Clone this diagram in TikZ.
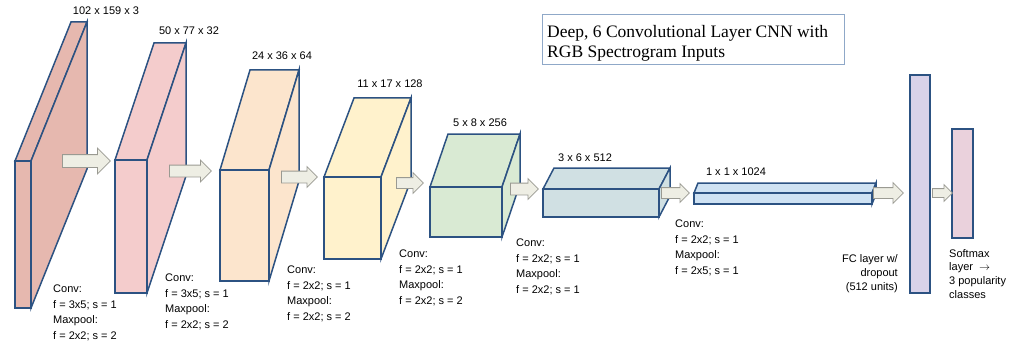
\documentclass[tikz,border=0pt]{standalone}
\usepackage{fontspec}
\setmainfont{Liberation Sans}
\newfontfamily\titlefont{Liberation Serif}
\usetikzlibrary{shapes.arrows}
\definecolor{edgeblue}{HTML}{2C5282}
\definecolor{cA}{HTML}{E6B8AF}
\definecolor{cB}{HTML}{F4CCCC}
\definecolor{cC}{HTML}{FCE5CD}
\definecolor{cD}{HTML}{FFF2CC}
\definecolor{cE}{HTML}{D9EAD3}
\definecolor{cF}{HTML}{D0E0E3}
\definecolor{cG}{HTML}{CFE2F3}
\definecolor{cH}{HTML}{D9D2E9}
\definecolor{cI}{HTML}{EAD1DC}
\definecolor{arrowfill}{HTML}{EEEEE4}
\definecolor{arrowedge}{HTML}{9A9A92}
\definecolor{titleedge}{HTML}{8FA8C8}
\newcommand\mycuboid[7]{%
  \filldraw[boxline,fill=#7] (#1,#2) -- ++(#5,#6) -- ++(#3-#1,0) -- (#3,#2) -- cycle;
  \filldraw[boxline,fill=#7] (#3,#2) -- ++(#5,#6) -- ++(0,#4-#2) -- (#3,#4) -- cycle;
  \filldraw[boxline,fill=#7] (#1,#2) rectangle (#3,#4);
}
\tikzset{
  boxline/.style={draw=edgeblue,line width=1.5pt,line join=miter},
  blockarrow/.style={single arrow,draw=arrowedge,fill=arrowfill,line width=0.8pt,inner xsep=0pt,anchor=west,shape border rotate=0},
  dimlabel/.style={font=\fontsize{11}{13}\selectfont,inner sep=0pt},
  oplabel/.style={font=\fontsize{11}{15.4}\selectfont,align=left,anchor=north west,inner sep=0pt},
}
\begin{document}
\begin{tikzpicture}[x=1pt,y=-1pt]
\useasboundingbox (0,0) rectangle (1018,345);
% cuboids
\mycuboid{15}{161}{31}{308}{56}{-139}{cA}
\mycuboid{115}{160}{147}{293}{39}{-117}{cB}
\mycuboid{220}{170}{269}{281}{30}{-100}{cC}
\mycuboid{324}{177}{381}{259}{30}{-79}{cD}
\mycuboid{430}{187}{502}{237}{18}{-53}{cE}
\mycuboid{543}{189}{659}{217}{11}{-21}{cF}
\mycuboid{694}{193}{872}{204}{4}{-10}{cG}
\filldraw[boxline,fill=cH] (910,75) rectangle (930,293);
\filldraw[boxline,fill=cI] (952,129) rectangle (973,238);
% block arrows
\node[blockarrow,minimum height=48pt,inner ysep=6pt,single arrow head extend=6.5pt] (a1) at (62,161) {};
\node[blockarrow,minimum height=42pt,inner ysep=5.5pt,single arrow head extend=5pt] (a2) at (169,171) {};
\node[blockarrow,minimum height=36pt,inner ysep=5.5pt,single arrow head extend=4.5pt] (a3) at (281,177) {};
\node[blockarrow,minimum height=27pt,inner ysep=5pt,single arrow head extend=5pt] (a4) at (396,183) {};
\node[blockarrow,minimum height=28pt,inner ysep=5.5pt,single arrow head extend=4.5pt] (a5) at (510,189) {};
\node[blockarrow,minimum height=28pt,inner ysep=5pt,single arrow head extend=4pt] (a6) at (661,193) {};
\node[blockarrow,minimum height=30pt,inner ysep=5pt,single arrow head extend=5pt] (a7) at (873,193) {};
\node[blockarrow,minimum height=20pt,inner ysep=4pt,single arrow head extend=4pt] (a8) at (932,193) {};
% dimension labels
\node[dimlabel] (d1) at (106,11) {102 x 159 x 3};
\node[dimlabel] (d2) at (189,31) {50 x 77 x 32};
\node[dimlabel] (d3) at (282,56) {24 x 36 x 64};
\node[dimlabel] (d4) at (390,84) {11 x 17 x 128};
\node[dimlabel] (d5) at (480,123) {5 x 8 x 256};
\node[dimlabel] (d6) at (585,158) {3 x 6 x 512};
\node[dimlabel] (d7) at (736,172) {1 x 1 x 1024};
% operation labels
\node[oplabel] (o1) at (53,285) {Conv:\\f = 3x5; s = 1\\Maxpool:\\f = 2x2; s = 2};
\node[oplabel] (o2) at (165,274) {Conv:\\f = 3x5; s = 1\\Maxpool:\\f = 2x2; s = 2};
\node[oplabel] (o3) at (287,266) {Conv:\\f = 2x2; s = 1\\Maxpool:\\f = 2x2; s = 2};
\node[oplabel] (o4) at (399,250) {Conv:\\f = 2x2; s = 1\\Maxpool:\\f = 2x2; s = 2};
\node[oplabel] (o5) at (516,239) {Conv:\\f = 2x2; s = 1\\Maxpool:\\f = 2x2; s = 1};
\node[oplabel] (o6) at (675,220) {Conv:\\f = 2x2; s = 1\\Maxpool:\\f = 2x5; s = 1};
\node[font=\fontsize{11}{14}\selectfont,align=right,anchor=north east,inner sep=0pt] (fc) at (898,254) {FC layer w/\\dropout\\(512 units)};
\node[font=\fontsize{11}{13.7}\selectfont,align=left,anchor=north west,inner sep=0pt] (sm) at (949,249) {Softmax\\layer ~$\rightarrow$\\3 popularity\\classes};
% title
\draw[titleedge,line width=0.8pt] (542,14) rectangle (844,64);
\node[font=\titlefont\fontsize{17.5}{20}\selectfont,align=left,anchor=north west,inner sep=0pt] (title) at (547,25) {Deep, 6 Convolutional Layer CNN with\\RGB Spectrogram Inputs};
\end{tikzpicture}
\end{document}
